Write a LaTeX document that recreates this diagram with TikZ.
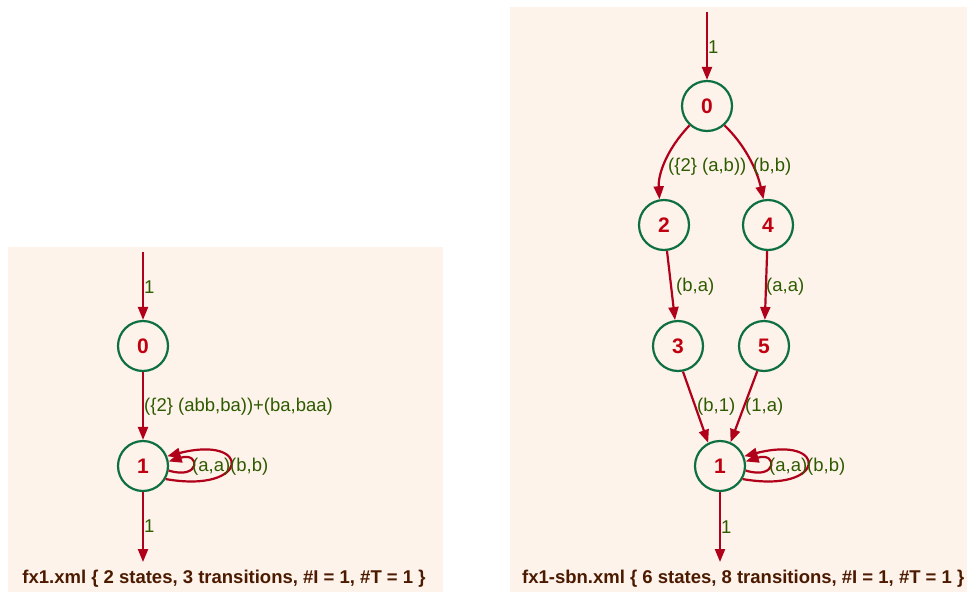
\documentclass[tikz,border=0pt]{standalone}
\usepackage{fontspec}
\setmainfont{Liberation Sans}
\usetikzlibrary{arrows.meta}
\definecolor{bgc}{HTML}{FDF3EA}
\definecolor{edgec}{HTML}{B0001A}
\definecolor{nodec}{HTML}{0E7040}
\definecolor{labc}{HTML}{2E5A00}
\definecolor{numc}{HTML}{C00010}
\definecolor{capc}{HTML}{4B1A00}
\tikzset{
  state/.style={circle, draw=nodec, line width=2.2pt, minimum size=50pt, inner sep=0pt,
    text=numc, font=\fontsize{21}{21}\selectfont\bfseries},
  edge/.style={draw=edgec, line width=2.2pt, -{Triangle[length=13pt,width=10pt]}},
  lab/.style={text=labc, font=\fontsize{18.5}{18.5}\selectfont, anchor=west, inner sep=0pt},
  captext/.style={text=capc, font=\fontsize{18.5}{18.5}\selectfont\bfseries, inner sep=0pt},
}
\begin{document}
\begin{tikzpicture}[x=1pt,y=-1pt]
\useasboundingbox (0,0) rectangle (967,592);
% backgrounds
\fill[bgc] (8,247) rectangle (443,592);
\fill[bgc] (510,7) rectangle (967,592);

% ---------- left automaton ----------
\coordinate (Lin) at (143,252);
\coordinate (Lout) at (143,562);
\node[state] (L0) at (143,346) {0};
\node[state] (L1) at (143,466) {1};
\draw[edge] (Lin) -- (L0);
\draw[edge] (L0) -- (L1);
\draw[edge] (L1) -- (Lout);
\draw[edge] (L1.-10) .. controls +(32,10) and +(32,-10) .. (L1.10);
\draw[edge] (L1.-30) .. controls +(85,15) and +(85,-22) .. (L1.22);
\node[lab] (Llin) at (144,287) {1};
\node[lab] (Ll01) at (144,407) {(\{2\} (abb,ba))+(ba,baa)};
\node[lab] (Llaa) at (192,467) {(a,a)};
\node[lab] (Llbb) at (230,467) {(b,b)};
\node[lab] (Llout) at (144,526) {1};
\node[captext] (Lcap) at (224,579) {fx1.xml \{ 2 states, 3 transitions, \#I = 1, \#T = 1 \}};

% ---------- right automaton ----------
\coordinate (Rin) at (707,12);
\coordinate (Rout) at (720,562);
\node[state] (R0) at (707,106) {0};
\node[state] (R2) at (664,225) {2};
\node[state] (R4) at (768,225) {4};
\node[state] (R3) at (678,346) {3};
\node[state] (R5) at (764,346) {5};
\node[state] (R1) at (720,466) {1};
\draw[edge] (Rin) -- (R0);
\draw[edge] (R0.-132) .. controls (666,150) and (658,175) .. (R2.100);
\draw[edge] (R0.-48) .. controls (745,145) and (757,170) .. (R4.100);
\draw[edge] (R2) -- (R3);
\draw[edge] (R4) -- (R5);
\draw[edge] (R3.-79) -- (R1.117);
\draw[edge] (R5.-105) -- (R1.66);
\draw[edge] (R1) -- (Rout);
\draw[edge] (R1.-10) .. controls +(32,10) and +(32,-10) .. (R1.10);
\draw[edge] (R1.-30) .. controls +(85,15) and +(85,-22) .. (R1.22);
\node[lab] (Rlin) at (708,47) {1};
\node[lab] (Rl02) at (668,167) {(\{2\} (a,b))};
\node[lab] (Rl04) at (753,167) {(b,b)};
\node[lab] (Rl23) at (676,287) {(b,a)};
\node[lab] (Rl45) at (766,287) {(a,a)};
\node[lab] (Rl31) at (697,407) {(b,1)};
\node[lab] (Rl51) at (745,407) {(1,a)};
\node[lab] (Rlaa) at (769,467) {(a,a)};
\node[lab] (Rlbb) at (807,467) {(b,b)};
\node[lab] (Rlout) at (721,527) {1};
\node[captext, anchor=west] (Rcap) at (522,579) {fx1-sbn.xml \{ 6 states, 8 transitions, \#I = 1, \#T = 1 \}};
\end{tikzpicture}
\end{document}
